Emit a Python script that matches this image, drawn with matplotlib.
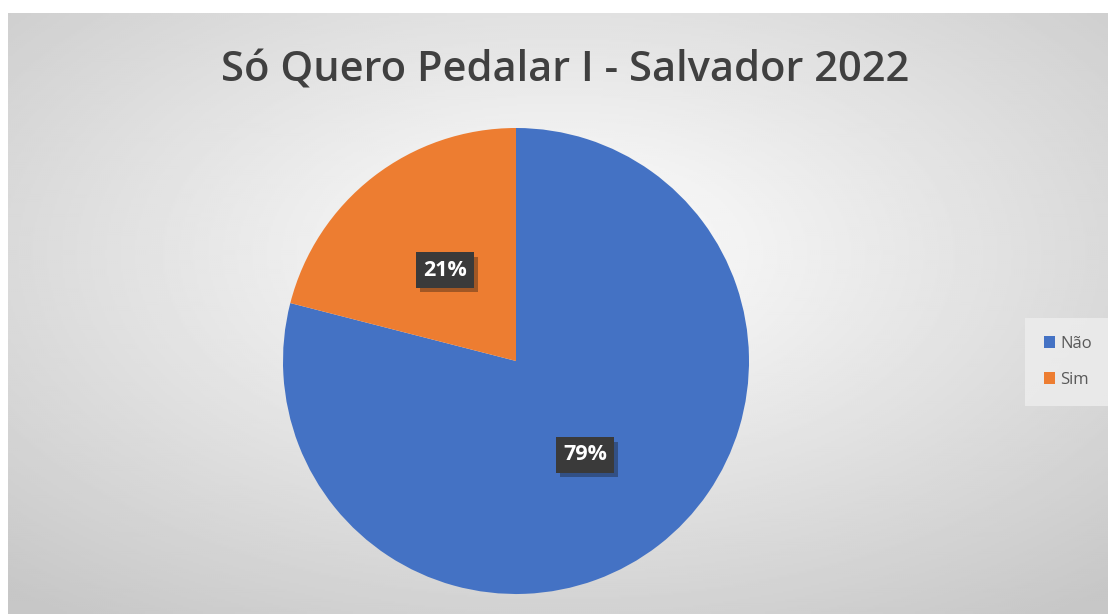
import numpy as np
import matplotlib.pyplot as plt
import matplotlib.patheffects as pe

labels = ['Não', 'Sim']
values = [79, 21]
colors = ['#4472C4', '#ED7D31']
title = 'Só Quero Pedalar I - Salvador 2022'

W, H = 1108, 614
fig = plt.figure(figsize=(W / 100, H / 100), dpi=100)
fig.patch.set_facecolor('white')

# radial gray background of the chart area
bg = fig.add_axes([8 / W, 0, 1 - 8 / W, 1 - 13 / H])
yy, xx = np.mgrid[0:300, 0:550]
cx, cy = 0.5 * 550, 0.4 * 300
r = np.sqrt(((xx - cx) / 550) ** 2 + ((yy - cy) / 300) ** 2)
shade = 1.0 - 0.22 * np.clip(r / 0.75, 0, 1)
bg.imshow(shade, cmap='gray', vmin=0, vmax=1, aspect='auto', interpolation='bilinear')
bg.axis('off')

ax = fig.add_axes([0, 0, 1, 1])

# y axis is inverted below, so angles run the other way
cxp, cyp, rad = 516, 361, 233
wedges, _ = ax.pie(values, colors=colors, startangle=-90, counterclock=True,
                   center=(cxp, cyp), radius=rad, frame=True,
                   wedgeprops=dict(linewidth=0))
ax.set_xlim(0, W)
ax.set_ylim(H, 0)
ax.set_aspect('equal')
ax.axis('off')

total = sum(values)
pos = [(585, 455), (445, 270)]
for v, (px, py) in zip(values, pos):
    ax.text(px, py, f'{round(100 * v / total)}%', ha='center', va='center',
            fontsize=15.5, fontweight='bold', color='white', family='Open Sans',
            bbox=dict(boxstyle='square,pad=0.33', fc='#3a3a3a', ec='none',
                      path_effects=[pe.withSimplePatchShadow(offset=(3, -3), alpha=0.35)]))

ax.text(565, 70, title, ha='center', va='center', fontsize=30,
        fontweight='semibold', color='#404040', family='Open Sans')

leg = ax.legend(wedges, labels, loc='center left', bbox_to_anchor=(1022 / W, 1 - 362 / H),
                bbox_transform=fig.transFigure, frameon=True,
                handlelength=0.7, handleheight=0.7, handletextpad=0.3,
                labelspacing=1.2, borderpad=0.8, prop=dict(family='Open Sans', size=12))
leg.get_frame().set_facecolor('#eeeeee')
leg.get_frame().set_edgecolor('none')
leg.get_frame().set_boxstyle('square')
for t in leg.get_texts():
    t.set_color('#595959')

fig.savefig('out.png', dpi=100)
